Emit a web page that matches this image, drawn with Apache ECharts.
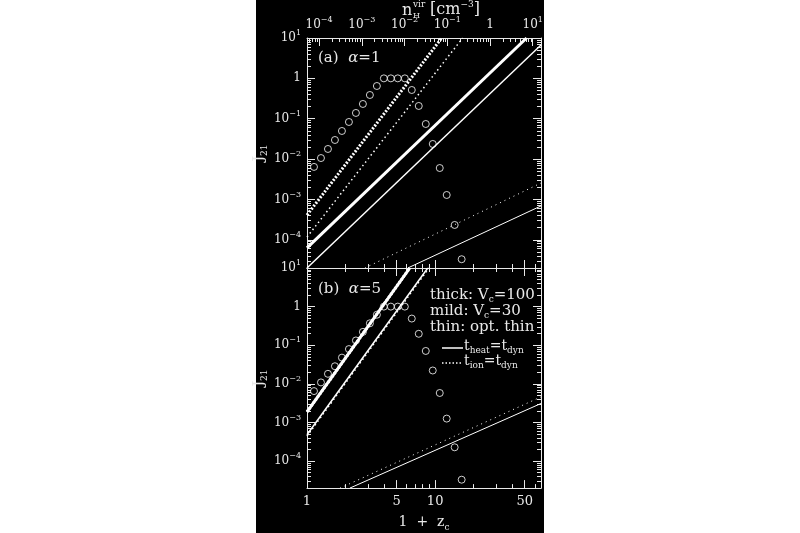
<!DOCTYPE html>
<html>
<head>
<meta charset="utf-8">
<script src="https://cdn.jsdelivr.net/npm/echarts@6/dist/echarts.min.js"></script>
<style>
  html, body { margin: 0; padding: 0; background: #fff; }
  #bg { position: absolute; left: 256px; top: 0; width: 288px; height: 533px; background: #000; }
  #chart { position: absolute; left: 0; top: 0; width: 800px; height: 533px; }
</style>
</head>
<body>
<div id="bg"></div>
<div id="chart"></div>
<script>
// axis ranges
const zRange = [1, 67];
const jRange = [2e-5, 10];
const nRange = [5.2e-5, 15.6];

// tick positions and labels
const zMajor = [1, 5, 10, 50];
const zMinor = [2, 3, 4, 6, 7, 8, 9, 20, 30, 40, 60];
const zLabels = [1, 5, 10, 50];
const jMajor = [1e-4, 1e-3, 1e-2, 1e-1, 1, 10];
const jLabels = [1e-4, 1e-3, 1e-2, 1e-1, 1, 10];
const jDecades = [1e-5, 1e-4, 1e-3, 1e-2, 1e-1, 1];
const nMajor = [1e-4, 1e-3, 1e-2, 1e-1, 1, 10];
const nLabels = [1e-4, 1e-3, 1e-2, 1e-1, 1, 10];
const nDecades = [1e-5, 1e-4, 1e-3, 1e-2, 1e-1, 1, 10];

// open circles (same redshift grid in both panels)
const zCirc = [1.134, 1.285, 1.457, 1.652, 1.873, 2.124, 2.408, 2.73, 3.095, 3.51, 3.98,
  4.51, 5.11, 5.8, 6.57, 7.45, 8.45, 9.58, 10.86, 12.31, 14.2, 16.1];
const jCircA = [6.4e-3, 0.0106, 0.0178, 0.0297, 0.0497, 0.083, 0.139, 0.232, 0.387, 0.647, 1.0,
  1.0, 1.0, 1.0, 0.515, 0.207, 0.074, 0.0237, 6.0e-3, 1.29e-3, 2.33e-4, 3.3e-5];
const jCircB = [6.5e-3, 0.0109, 0.0182, 0.0286, 0.0478, 0.0796, 0.133, 0.222, 0.37, 0.617, 1.0,
  1.0, 1.0, 1.0, 0.491, 0.198, 0.0711, 0.0222, 5.8e-3, 1.26e-3, 2.28e-4, 3.3e-5];

// panel (a) alpha = 1 : [1+z, J21] end points
const aThickHeat = [[1, 6.3e-5], [51.7, 10]];
const aMildHeat = [[1, 2e-5], [67, 6.7]];
const aThinHeat = [[6.12, 2e-5], [67, 6.9e-4]];
const aThickIon = [[1, 4.1e-4], [11.25, 10]];
const aMildIon = [[1, 1.17e-4], [16.4, 10]];
const aThinIon = [[2.83, 2e-5], [67, 2.55e-3]];

// panel (b) alpha = 5
const bThickHeat = [[1, 1.87e-3], [6.34, 10]];
const bMildHeat = [[1, 4.8e-4], [8.76, 10]];
const bThinHeat = [[2.16, 2e-5], [67, 3.1e-3]];
const bThickIon = [[1, 1.87e-3], [6.34, 10]];
const bMildIon = [[1, 4.4e-4], [8.95, 10]];
const bThinIon = [[1.81, 2e-5], [67, 4.6e-3]];

const FG = '#e8e8e8';
const FONT = 'DejaVu Serif';

function minors(decades, lo, hi) {
  const out = [];
  decades.forEach(d => {
    for (let k = 2; k <= 9; k++) {
      const v = d * k;
      if (v > lo && v < hi) out.push(v);
    }
  });
  return out;
}
const jMinor = minors(jDecades, jRange[0], jRange[1]);
const nMinor = minors(nDecades, nRange[0], nRange[1]);

const supRich = {
  s: { fontSize: 8, lineHeight: 8, verticalAlign: 'top', color: FG, fontFamily: FONT },
  b: { fontSize: 9, lineHeight: 9, verticalAlign: 'bottom', color: FG, fontFamily: FONT }
};

function powLabel(v) {
  const e = Math.round(Math.log10(v));
  if (e === 0) return '1';
  return '10{s|' + (e < 0 ? '\u2212' : '') + Math.abs(e) + '}';
}

function ax(grid, pos, range, ticks, len, extra) {
  return Object.assign({
    type: 'log', logBase: 10, gridIndex: grid, position: pos,
    min: range[0], max: range[1],
    axisLine: { show: false },
    axisTick: { show: true, inside: true, length: len, customValues: ticks,
      lineStyle: { color: FG, width: 1 } },
    axisLabel: { show: false },
    splitLine: { show: false },
    minorTick: { show: false },
    axisPointer: { show: false },
    silent: true
  }, extra || {});
}
const lineOn = { axisLine: { show: true, lineStyle: { color: FG, width: 1 } } };
function withLabels(labels, fmt, size, margin) {
  return {
    axisLabel: { show: true, customValues: labels, formatter: fmt, color: FG,
      fontFamily: FONT, fontSize: size, lineHeight: 18, margin: margin, rich: supRich }
  };
}

const xAxis = [
  ax(0, 'bottom', zRange, zMajor, 8, lineOn),
  ax(0, 'bottom', zRange, zMinor, 4),
  ax(0, 'top', nRange, nMajor, 8, Object.assign({}, lineOn, withLabels(nLabels, powLabel, 12, 4))),
  ax(0, 'top', nRange, nMinor, 4),
  ax(1, 'bottom', zRange, zMajor, 8, Object.assign({}, lineOn, withLabels(zLabels, v => String(v), 13, 5), {
    name: '1  +  z{b|c}', nameLocation: 'middle', nameGap: 17,
    nameTextStyle: { color: FG, fontFamily: FONT, fontSize: 14, lineHeight: 20, rich: supRich }
  })),
  ax(1, 'bottom', zRange, zMinor, 4),
  ax(1, 'top', zRange, zMajor, 8, lineOn),
  ax(1, 'top', zRange, zMinor, 4)
];

function jName() {
  return {
    name: 'J{b|21}', nameLocation: 'middle', nameGap: 38, nameRotate: 90,
    nameTextStyle: { color: FG, fontFamily: FONT, fontSize: 14, lineHeight: 20, rich: supRich }
  };
}

const yAxis = [
  ax(0, 'left', jRange, jMajor, 8, Object.assign({}, lineOn, withLabels(jLabels, powLabel, 12, 6), jName())),
  ax(0, 'left', jRange, jMinor, 4),
  ax(0, 'right', jRange, jMajor, 8, lineOn),
  ax(0, 'right', jRange, jMinor, 4),
  ax(1, 'left', jRange, jMajor, 8, Object.assign({}, lineOn, withLabels(jLabels, powLabel, 12, 6), jName())),
  ax(1, 'left', jRange, jMinor, 4),
  ax(1, 'right', jRange, jMajor, 8, lineOn),
  ax(1, 'right', jRange, jMinor, 4)
];

function ln(data, panel, width, dash) {
  return {
    type: 'line', data: data, xAxisIndex: panel * 4, yAxisIndex: panel * 4,
    symbol: 'none', clip: true, silent: true, z: 2,
    lineStyle: { color: '#fff', width: width, type: dash || 'solid', cap: 'butt' }
  };
}
function circles(xs, ys, panel) {
  return {
    type: 'scatter', data: xs.map((x, i) => [x, ys[i]]),
    xAxisIndex: panel * 4, yAxisIndex: panel * 4,
    symbol: 'circle', symbolSize: 7, silent: true, z: 3,
    itemStyle: { color: 'rgba(0,0,0,0)', borderColor: '#fff', borderWidth: 1 }
  };
}

const series = [
  ln(aThickHeat, 0, 3), ln(aMildHeat, 0, 1.5), ln(aThinHeat, 0, 1),
  ln(aThickIon, 0, 3, [2, 1.6]), ln(aMildIon, 0, 1.5, [1.5, 3]), ln(aThinIon, 0, 1, [1, 4]),
  ln(bThickHeat, 1, 3), ln(bMildHeat, 1, 1.5), ln(bThinHeat, 1, 1),
  ln(bThickIon, 1, 3, [2, 1.6]), ln(bMildIon, 1, 1.5, [1.5, 3]), ln(bThinIon, 1, 1, [1, 4]),
  circles(zCirc, jCircA, 0), circles(zCirc, jCircB, 1)
];

const txt = (x, y, text, size, extra) => ({
  type: 'text', x: x, y: y, silent: true,
  style: Object.assign({ text: text, fill: FG, fontFamily: FONT, fontSize: size,
    verticalAlign: 'middle', align: 'left',
    rich: {
      s: { fontSize: 9, lineHeight: 9, verticalAlign: 'top', fill: FG, fontFamily: FONT },
      b: { fontSize: 9, lineHeight: 9, verticalAlign: 'bottom', fill: FG, fontFamily: FONT },
      i: { fontStyle: 'italic', fontSize: size, fill: FG, fontFamily: FONT }
    } }, extra || {})
});

const graphic = [
  // top axis title
  txt(402, 11, 'n', 16),
  txt(413, 5, 'vir', 9),
  txt(413, 16, 'H', 8),
  txt(430, 10, '[cm{s|\u22123}]', 16, { lineHeight: 20 }),
  // panel labels
  txt(318, 58, '(a)  {i|\u03b1}=1', 15),
  txt(318, 289, '(b)  {i|\u03b1}=5', 15),
  // key
  txt(430, 295, 'thick: V{b|c}=100', 15, { lineHeight: 18 }),
  txt(430, 311, 'mild: V{b|c}=30', 15, { lineHeight: 18 }),
  txt(430, 327, 'thin: opt. thin', 15),
  { type: 'line', silent: true, shape: { x1: 442, y1: 348, x2: 463, y2: 348 },
    style: { stroke: '#fff', lineWidth: 1.5 } },
  txt(464, 346, 't{b|heat}=t{b|dyn}', 14, { lineHeight: 18 }),
  { type: 'line', silent: true, shape: { x1: 442, y1: 363, x2: 463, y2: 363 },
    style: { stroke: '#fff', lineWidth: 1.5, lineDash: [1.5, 2] } },
  txt(464, 361, 't{b|ion}=t{b|dyn}', 14, { lineHeight: 18 })
];

const chart = echarts.init(document.getElementById('chart'), null, { renderer: 'canvas' });
chart.setOption({
  animation: false,
  backgroundColor: 'transparent',
  grid: [
    { left: 307, top: 38, width: 234, height: 230 },
    { left: 307, top: 268, width: 234, height: 231 }
  ],
  xAxis: xAxis,
  yAxis: yAxis,
  series: series,
  graphic: graphic
});
</script>
</body>
</html>
